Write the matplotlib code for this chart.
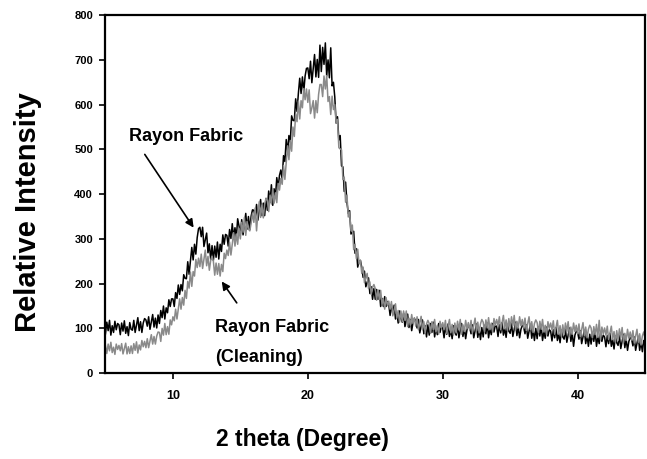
import numpy as np
import matplotlib.pyplot as plt

plt.rcParams['font.family'] = ['Liberation Sans', 'DejaVu Sans']

# 2 theta from 5 to 45 degree, step 0.1
two_theta = np.round(np.arange(5.0, 45.001, 0.1), 1)

# Rayon Fabric (black), one row per degree
rayon = [
    88, 114, 95, 118, 85, 106, 91, 116, 97, 111,        # 5
    108, 86, 112, 94, 117, 89, 104, 84, 113, 98,        # 6
    96, 118, 91, 107, 124, 95, 115, 91, 112, 122,       # 7
    119, 105, 126, 98, 114, 131, 103, 123, 101, 130,    # 8
    111, 140, 124, 150, 121, 146, 135, 164, 149, 166,   # 9
    166, 149, 180, 167, 197, 176, 198, 184, 220, 212,   # 10
    211, 249, 221, 251, 281, 253, 288, 266, 303, 323,   # 11
    326, 305, 326, 283, 298, 313, 269, 289, 254, 285,   # 12
    252, 284, 259, 293, 255, 288, 272, 309, 288, 310,   # 13
    308, 284, 321, 301, 334, 302, 325, 303, 345, 329,   # 14
    311, 343, 309, 333, 357, 322, 350, 321, 351, 365,   # 15
    364, 348, 377, 342, 365, 388, 352, 380, 352, 390,   # 16
    364, 407, 382, 421, 375, 412, 394, 437, 414, 442,   # 17
    454, 434, 486, 473, 522, 493, 531, 516, 575, 565,   # 18
    564, 613, 585, 625, 659, 625, 662, 629, 664, 681,   # 19
    682, 658, 697, 649, 680, 712, 662, 701, 661, 733,   # 20
    674, 728, 690, 738, 664, 700, 660, 727, 642, 650,   # 21
    617, 559, 573, 521, 531, 463, 461, 406, 427, 382,   # 22
    357, 363, 311, 314, 317, 268, 278, 237, 251, 252,   # 23
    236, 214, 228, 193, 202, 213, 178, 193, 165, 189,   # 24
    165, 187, 165, 185, 149, 167, 149, 171, 149, 160,   # 25
    154, 129, 153, 132, 152, 121, 134, 112, 139, 122,   # 26
    114, 134, 104, 118, 132, 102, 120, 95, 114, 122,    # 27
    117, 101, 120, 90, 104, 119, 88, 106, 81, 108,      # 28
    85, 111, 91, 114, 81, 101, 86, 111, 91, 105,        # 29
    101, 79, 105, 87, 110, 82, 97, 77, 106, 91,         # 30
    85, 107, 79, 95, 111, 82, 101, 77, 97, 106,         # 31
    103, 88, 108, 79, 94, 110, 80, 99, 75, 102,         # 32
    81, 107, 88, 112, 79, 100, 86, 111, 92, 107,        # 33
    104, 82, 108, 90, 113, 85, 100, 80, 109, 94,        # 34
    89, 111, 82, 98, 114, 84, 103, 79, 98, 107,         # 35
    103, 88, 108, 78, 93, 109, 78, 97, 73, 100,         # 36
    77, 103, 83, 106, 73, 93, 78, 103, 83, 97,          # 37
    94, 72, 97, 79, 102, 73, 88, 68, 96, 81,            # 38
    76, 98, 69, 85, 101, 71, 90, 60, 85, 94,            # 39
    91, 76, 95, 66, 81, 96, 66, 85, 60, 87,             # 40
    65, 90, 71, 94, 60, 81, 66, 90, 71, 85,             # 41
    81, 59, 84, 66, 89, 60, 75, 54, 83, 68,             # 42
    62, 84, 55, 71, 87, 57, 76, 51, 71, 80,             # 43
    76, 61, 81, 51, 66, 82, 51, 70, 48, 73,             # 44
    66,
]

# Rayon Fabric (Cleaning), grey
rayon_clean = [
    61, 44, 65, 50, 69, 46, 58, 42, 65, 53,             # 5
    62, 50, 66, 43, 55, 67, 43, 59, 44, 61,             # 6
    44, 66, 51, 70, 45, 63, 52, 73, 59, 71,             # 7
    57, 77, 57, 71, 86, 65, 82, 65, 83, 92,             # 8
    91, 71, 100, 85, 111, 86, 104, 87, 119, 108,        # 9
    126, 117, 143, 121, 143, 166, 143, 169, 152, 185,   # 10
    167, 205, 190, 226, 194, 227, 217, 254, 236, 257,   # 11
    238, 266, 234, 255, 275, 240, 261, 230, 252, 261,   # 12
    250, 219, 246, 221, 245, 217, 243, 227, 268, 256,   # 13
    275, 263, 293, 264, 288, 314, 284, 311, 288, 324,   # 14
    300, 337, 315, 348, 308, 339, 322, 318, 336, 357,   # 15
    337, 369, 318, 359, 383, 348, 376, 347, 377, 391,   # 16
    386, 361, 398, 378, 412, 380, 403, 381, 424, 409,   # 17
    435, 422, 464, 433, 470, 508, 477, 520, 496, 550,   # 18
    529, 579, 562, 608, 568, 609, 593, 636, 611, 635,   # 19
    605, 633, 580, 593, 609, 570, 609, 582, 623, 645,   # 20
    645, 618, 664, 635, 665, 607, 618, 578, 619, 589,   # 21
    600, 559, 567, 504, 501, 499, 433, 438, 382, 398,   # 22
    349, 360, 318, 331, 276, 288, 256, 277, 244, 252,   # 23
    223, 237, 202, 212, 223, 189, 204, 176, 192, 198,   # 24
    189, 163, 186, 165, 185, 154, 166, 143, 169, 151,   # 25
    161, 143, 160, 128, 141, 155, 123, 140, 114, 139,   # 26
    115, 139, 118, 139, 104, 123, 107, 131, 111, 124,   # 27
    105, 126, 97, 112, 127, 97, 115, 90, 110, 118,      # 28
    111, 89, 115, 97, 120, 92, 107, 87, 116, 101,       # 29
    113, 98, 118, 89, 104, 120, 90, 109, 85, 112,       # 30
    90, 116, 97, 120, 87, 108, 93, 118, 99, 113,        # 31
    96, 118, 90, 107, 123, 94, 114, 90, 110, 120,       # 32
    114, 92, 119, 101, 124, 97, 112, 92, 122, 107,      # 33
    120, 106, 126, 97, 113, 129, 99, 119, 95, 122,      # 34
    100, 126, 106, 129, 96, 116, 101, 126, 106, 120,    # 35
    101, 123, 95, 110, 126, 97, 115, 91, 111, 119,      # 36
    113, 90, 116, 98, 120, 92, 107, 86, 115, 100,       # 37
    112, 97, 117, 87, 102, 118, 87, 106, 82, 108,       # 38
    86, 112, 93, 115, 82, 103, 87, 112, 93, 107,        # 39
    88, 110, 82, 98, 113, 84, 103, 79, 98, 107,         # 40
    101, 79, 104, 86, 109, 80, 118, 75, 103, 88,        # 41
    101, 85, 105, 75, 90, 105, 75, 93, 69, 95,          # 42
    73, 99, 79, 102, 68, 89, 73, 98, 78, 92,            # 43
    74, 95, 67, 83, 98, 69, 88, 63, 83, 92,             # 44
    79,
]

fig = plt.figure(figsize=(6.47, 4.59), dpi=100)
ax = fig.add_axes([0.163, 0.187, 0.834, 0.780])

ax.plot(two_theta, rayon, color='black', lw=1.1)
ax.plot(two_theta, rayon_clean, color='#8a8a8a', lw=1.1)

ax.set_xlim(5, 45)
ax.set_ylim(0, 800)
ax.set_xticks([10, 20, 30, 40])
ax.set_yticks(np.arange(0, 801, 100))

for s in ax.spines.values():
    s.set_linewidth(1.6)

ax.tick_params(axis='both', direction='out', length=4, width=1.2)
ax.tick_params(axis='x', labelsize=9, pad=8)
ax.tick_params(axis='y', labelsize=8, pad=5)
for lab in ax.get_xticklabels() + ax.get_yticklabels():
    lab.set_fontweight('bold')

# labels with arrows
ax.annotate('', xy=(11.65, 320), xytext=(7.8, 494),
            arrowprops=dict(arrowstyle='-|>', color='black', lw=1.2, mutation_scale=12))
ax.text(6.75, 528, 'Rayon Fabric', fontsize=13, fontweight='bold', ha='left', va='center')

ax.annotate('', xy=(13.5, 210), xytext=(14.85, 152),
            arrowprops=dict(arrowstyle='-|>', color='black', lw=1.2, mutation_scale=12))
ax.text(13.14, 103, 'Rayon Fabric', fontsize=13, fontweight='bold', ha='left', va='center')
ax.text(13.14, 36, '(Cleaning)', fontsize=13, fontweight='bold', ha='left', va='center')

fig.text(0.0433, 0.538, 'Relative Intensity', rotation=90, fontsize=21,
         fontweight='bold', ha='center', va='center')
fig.text(0.4668, 0.0414, '2 theta (Degree)', fontsize=16.5,
         fontweight='bold', ha='center', va='center')

fig.savefig('out.png', dpi=100)
